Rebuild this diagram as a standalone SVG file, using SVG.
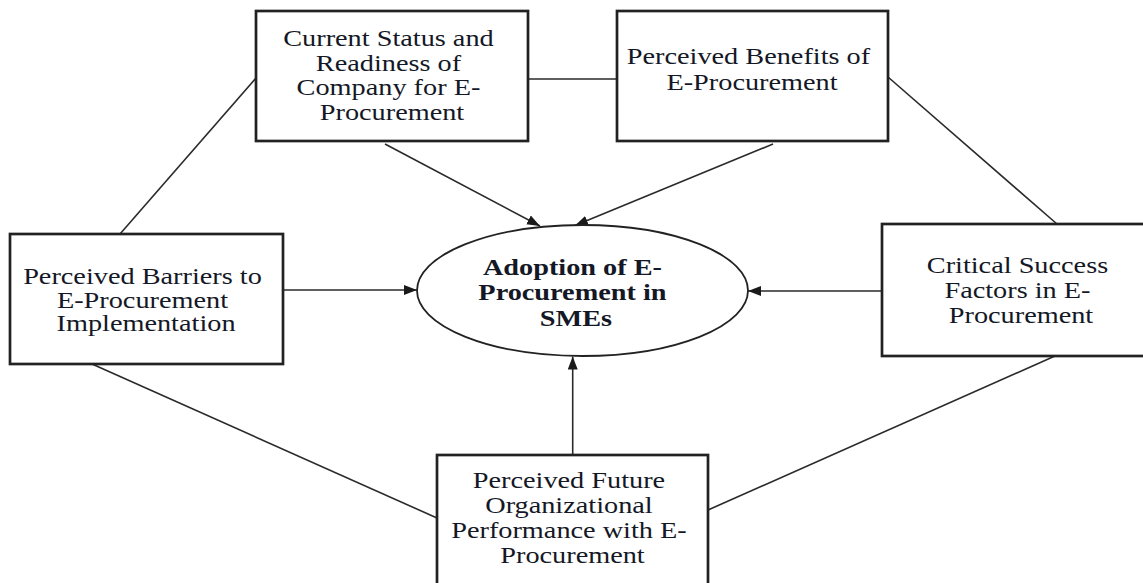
<svg xmlns="http://www.w3.org/2000/svg" width="1143" height="583" viewBox="0 0 1143 583">
  <style>
    .box { fill: #ffffff; stroke: #222222; stroke-width: 2.7; }
    .oval { fill: #ffffff; stroke: #222222; stroke-width: 1.8; }
    .link { stroke: #2a2a2a; stroke-width: 1.6; fill: none; }
    .arrow { stroke: #2a2a2a; stroke-width: 1.6; fill: none; marker-end: url(#head); }
    .lbl { font-family: "Liberation Serif", "Times New Roman", serif; font-size: 23px; fill: #141826; text-anchor: middle; }
    .lbl-b { font-family: "Liberation Serif", "Times New Roman", serif; font-size: 23px; font-weight: bold; fill: #141826; text-anchor: middle; }
  </style>
  <defs>
    <marker id="head" markerUnits="userSpaceOnUse" markerWidth="14" markerHeight="12" refX="13" refY="5" orient="auto">
      <path d="M0,0 L13,5 L0,10 Z" fill="#1a1a1a"/>
    </marker>
  </defs>
  <rect width="1143" height="583" fill="#ffffff"/>

  <!-- connectors -->
  <g id="connectors">
    <line class="link" x1="528" y1="79" x2="617" y2="79"/>
    <line class="link" x1="256" y1="78" x2="120" y2="234"/>
    <line class="link" x1="888" y1="77" x2="1057" y2="224"/>
    <line class="link" x1="92" y1="364" x2="437" y2="518"/>
    <line class="link" x1="1055" y1="356" x2="708" y2="510"/>
    <line class="arrow" x1="385" y1="144" x2="540" y2="226"/>
    <line class="arrow" x1="773" y1="144" x2="575" y2="225.5"/>
    <line class="arrow" x1="283" y1="290" x2="417" y2="290"/>
    <line class="arrow" x1="882" y1="291" x2="748" y2="291"/>
    <line class="arrow" x1="572.7" y1="455" x2="572.7" y2="356.5"/>
  </g>

  <!-- current status -->
  <g id="node-status">
    <rect class="box" x="256" y="11" width="272" height="130"/>
    <text class="lbl" transform="matrix(1.23,0,0,1,392,0)">
      <tspan x="0" y="46.5">Current Status and</tspan>
      <tspan x="0" y="71">Readiness of</tspan>
      <tspan x="0" y="95.5">Company for E-</tspan>
      <tspan x="0" y="120">Procurement</tspan>
    </text>
  </g>

  <!-- benefits -->
  <g id="node-benefits">
    <rect class="box" x="617" y="11" width="271" height="130"/>
    <text class="lbl" transform="matrix(1.23,0,0,1,752,0)">
      <tspan x="0" y="64.5">Perceived Benefits of</tspan>
      <tspan x="0" y="90.5">E-Procurement</tspan>
    </text>
  </g>

  <!-- barriers -->
  <g id="node-barriers">
    <rect class="box" x="10" y="234" width="273" height="130"/>
    <text class="lbl" transform="matrix(1.23,0,0,1,146,0)">
      <tspan x="0" y="284">Perceived Barriers to</tspan>
      <tspan x="0" y="308">E-Procurement</tspan>
      <tspan x="0" y="331.5">Implementation</tspan>
    </text>
  </g>

  <!-- success factors -->
  <g id="node-success">
    <rect class="box" x="882" y="224" width="278" height="132"/>
    <text class="lbl" transform="matrix(1.23,0,0,1,1021,0)">
      <tspan x="0" y="273">Critical Success</tspan>
      <tspan x="0" y="298">Factors in E-</tspan>
      <tspan x="0" y="323">Procurement</tspan>
    </text>
  </g>

  <!-- future performance -->
  <g id="node-performance">
    <rect class="box" x="437" y="455" width="271" height="140"/>
    <text class="lbl" transform="matrix(1.23,0,0,1,572.5,0)">
      <tspan x="0" y="488">Perceived Future</tspan>
      <tspan x="0" y="513">Organizational</tspan>
      <tspan x="0" y="538">Performance with E-</tspan>
      <tspan x="0" y="563">Procurement</tspan>
    </text>
  </g>

  <!-- adoption -->
  <g id="node-adoption">
    <ellipse class="oval" cx="582.5" cy="290.5" rx="165.5" ry="65.5"/>
    <text class="lbl-b" transform="matrix(1.23,0,0,1,576,0)">
      <tspan x="0" y="275">Adoption of E-</tspan>
      <tspan x="0" y="300">Procurement in</tspan>
      <tspan x="0" y="326">SMEs</tspan>
    </text>
  </g>
</svg>
